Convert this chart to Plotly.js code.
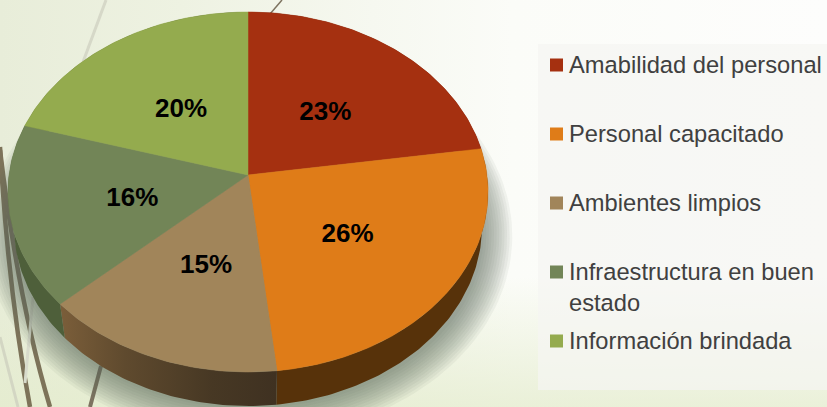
<!DOCTYPE html>
<html>
<head>
<meta charset="utf-8">
<script src="https://cdn.plot.ly/plotly-3.0.1.min.js"></script>
<style>
html,body{margin:0;padding:0;width:827px;height:407px;overflow:hidden;
background:
 linear-gradient(to top, rgba(228,236,205,.75), rgba(228,236,205,0) 32%),
 linear-gradient(to right, #E8EDD9 0%, #EEF2E2 22%, #F6F8F0 45%, #FBFCF8 62%, #FDFDFC 100%);}
#chart{width:827px;height:407px;}
</style>
</head>
<body>
<div id="chart"></div>
<script>
// ---- data ----
const categories = ['Amabilidad del personal','Personal capacitado','Ambientes limpios','Infraestructura en buen<br>estado','Información brindada'];
const values = [22.6, 25.6, 14.9, 16.4, 20.4];
const topColors = ['#A53010','#DF7C18','#A1855A','#728557','#94AB4E'];
const wallColors = ['#5E1B08','#57320A','#4A3923','#4E5F3A','#55632C'];

// ---- projection of the tilted disc into the plot's axis units ----
const W = 827, H = 407;
const apexX = 248, apexY = 175, radX = 239, radY = 178.4, tilt = 0.0944;
const depth = 34, wallShrink = 0.975;
const total = values.reduce((a,b)=>a+b,0);
function project(frac, r){
  const t = frac*2*Math.PI, u = r*Math.sin(t), v = r*Math.cos(t), d = 1+tilt*v;
  return [apexX+radX*u/d, apexY-radY*v/d];
}
function arc(f0,f1){
  const n = Math.max(2,Math.ceil((f1-f0)*360)), pts=[];
  for(let i=0;i<=n;i++) pts.push(project(f0+(f1-f0)*i/n,1));
  return pts;
}
const traces = [];
// soft drop shadow below the pie
const shadowLayers = 12;
for(let i=shadowLayers;i>=1;i--){
  const grow = i*2.6-8, xs=[], ys=[];
  for(let a=0;a<=360;a+=2){
    const p = project(a/360,1);
    xs.push(apexX+(p[0]-apexX)*(1+grow/240)+1);
    ys.push(apexY+(p[1]-apexY)*(1+grow/190)+42);
  }
  traces.push({type:'scatter',x:xs,y:ys,mode:'lines',fill:'toself',line:{width:0},
    fillcolor:'rgba(95,105,95,0.065)',hoverinfo:'skip',showlegend:false});
}
// walls and top faces
let acc = 0; const spans = values.map(v=>{const s=[acc/total,(acc+v)/total];acc+=v;return s;});
spans.forEach((s,i)=>{
  const rim = arc(s[0],s[1]);
  const low = rim.map(p=>[apexX+(p[0]-apexX)*wallShrink,p[1]+depth]).reverse();
  const poly = rim.concat(low); poly.push(rim[0]);
  const tr = {type:'scatter',x:poly.map(p=>p[0]),y:poly.map(p=>p[1]),mode:'lines',fill:'toself',
    line:{width:0},fillcolor:wallColors[i],hoverinfo:'skip',showlegend:false};
  if(i===2){
    tr.fillgradient={type:'horizontal',colorscale:[[0,'#7B5E3A'],[0.3,'#5F4A2E'],[0.7,'#473824'],[1,'#3F3121']]};
  }
  traces.push(tr);
});
spans.forEach((s,i)=>{
  const rim = arc(s[0],s[1]);
  const poly = [[apexX,apexY]].concat(rim); poly.push([apexX,apexY]);
  traces.push({type:'scatter',x:poly.map(p=>p[0]),y:poly.map(p=>p[1]),mode:'lines',fill:'toself',
    line:{width:0.5,color:topColors[i]},fillcolor:topColors[i],name:categories[i],
    text:categories[i]+': '+Math.round(values[i])+'%',hoverinfo:'text',showlegend:false});
});
// percentage labels
const labelPts = spans.map(s=>project((s[0]+s[1])/2,0.5));
traces.push({type:'scatter',mode:'text',x:labelPts.map(p=>p[0]+2),y:labelPts.map(p=>p[1]+4),
  text:values.map(v=>Math.round(v)+'%'),textposition:'middle center',
  textfont:{family:'Liberation Sans, Arial, sans-serif',size:26,color:'#000000'},
  texttemplate:'<b>%{text}</b>',hoverinfo:'skip',showlegend:false});
// legend
const legendRows = [0,1,2,3,4].map(k=>65+k*69);
traces.push({type:'scatter',mode:'markers',x:categories.map(()=>556.5),y:legendRows,
  marker:{symbol:'square',size:13,color:topColors,line:{width:0}},hoverinfo:'skip',showlegend:false});
const annotations = categories.map((c,i)=>({xref:'x',yref:'y',x:568,y:legendRows[i]-14.5,xanchor:'left',yanchor:'top',
  text:c,showarrow:false,align:'left',borderpad:0,
  font:{family:'Liberation Sans, Arial, sans-serif',size:23.7,color:'#404040'}}));

function backLine(path,color,width){
  return {type:'path',xref:'x',yref:'y',path,layer:'below',line:{color,width}};
}
const shapes = [
  {type:'rect',xref:'x',yref:'y',x0:538,x1:827,y0:44,y1:390,layer:'below',line:{width:0},fillcolor:'rgba(245,245,242,0.7)'},
  backLine('M106,0 L83,62','#D6D8C8',3),
  backLine('M282,0 L270,14','#7D7360',1.5),
  backLine('M101,366 L90,407','#7D7360',4),
  backLine('M0,147 Q8,290 30,407','#7D7359',4.5),
  backLine('M0,150 Q18,300 50,407','#7D7359',4.5),
  backLine('M0,337 L18,407','#D3D6C3',3),
  backLine('M33,297 L25,383','#D8DBCB',3)
];
Plotly.newPlot('chart',traces,{
  width:W,height:H,margin:{l:0,r:0,t:0,b:0},
  paper_bgcolor:'rgba(0,0,0,0)',plot_bgcolor:'rgba(0,0,0,0)',showlegend:false,
  xaxis:{range:[0,W],visible:false,fixedrange:true},
  yaxis:{range:[H,0],visible:false,fixedrange:true},
  shapes,annotations
},{displayModeBar:false,staticPlot:true});
</script>
</body>
</html>
